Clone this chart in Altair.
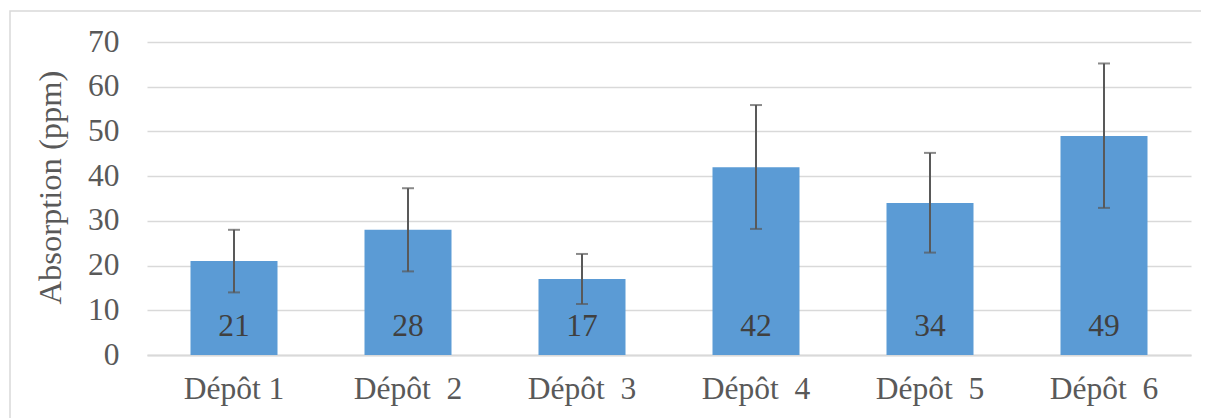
import altair as alt
import pandas as pd

categories = ["Dépôt 1", "Dépôt\u00a0 2", "Dépôt\u00a0 3", "Dépôt\u00a0 4", "Dépôt\u00a0 5", "Dépôt\u00a0 6"]
values = [21, 28, 17, 42, 34, 49]
err_low = [14.0, 18.7, 11.4, 28.2, 22.9, 32.9]
err_high = [28.0, 37.3, 22.6, 55.9, 45.2, 65.2]
y_ticks = [0, 10, 20, 30, 40, 50, 60, 70]

df = pd.DataFrame({"cat": categories, "val": values, "lo": err_low, "hi": err_high})

FONT = "Liberation Serif"
W, H = 1044, 313

x_enc = alt.X("cat:N", sort=categories, title=None,
              scale=alt.Scale(paddingInner=0.5, paddingOuter=0.25),
              axis=alt.Axis(labelAngle=0, labelFont=FONT, labelFontSize=31.5, labelColor="#595959",
                            ticks=False, domainColor="#d9d9d9", domainWidth=2, labelPadding=18))
y_scale = alt.Scale(domain=[0, 70], nice=False)

base = alt.Chart(df)

bars = base.mark_bar(color="#5b9bd5").encode(
    x=x_enc,
    y=alt.Y("val:Q", scale=y_scale, title="Absorption (ppm)",
            axis=alt.Axis(values=y_ticks, labelFont=FONT, labelFontSize=31.5, labelColor="#595959",
                          titleFont=FONT, titleFontSize=32.5, titleColor="#595959", titleFontWeight="normal",
                          ticks=False, domain=False, labelPadding=28, titlePadding=20, titleY=145,
                          gridColor="#d9d9d9", gridWidth=1.5)),
)

rules = base.mark_rule(color="#595959", strokeWidth=2).encode(
    x=alt.X("cat:N", sort=categories), y=alt.Y("lo:Q", scale=y_scale), y2="hi:Q")
cap_lo = base.mark_tick(color="#595959", thickness=2, size=12).encode(
    x=alt.X("cat:N", sort=categories), y=alt.Y("lo:Q", scale=y_scale))
cap_hi = base.mark_tick(color="#595959", thickness=2, size=12).encode(
    x=alt.X("cat:N", sort=categories), y=alt.Y("hi:Q", scale=y_scale))

labels = base.mark_text(font=FONT, fontSize=31.5, color="#404040", baseline="alphabetic", dy=-19).encode(
    x=alt.X("cat:N", sort=categories), y=alt.datum(0), text="val:Q")

border = alt.Chart(alt.Data(values=[{"a": 1}])).mark_rect(
    fill=None, stroke="#d9d9d9", strokeWidth=1.5, clip=False).encode(
    x=alt.value(-137), x2=alt.value(1300), y=alt.value(-31), y2=alt.value(500))

chart = alt.layer(bars, rules, cap_lo, cap_hi, labels, border).properties(
    width=W, height=H,
    autosize=alt.AutoSizeParams(type="none"),
    padding={"left": 139, "top": 34, "right": 10, "bottom": 70},
).configure_view(stroke=None).configure_axis(labelFontWeight="normal")

chart.save("out.html", embed_options={"renderer": "svg", "actions": False})
